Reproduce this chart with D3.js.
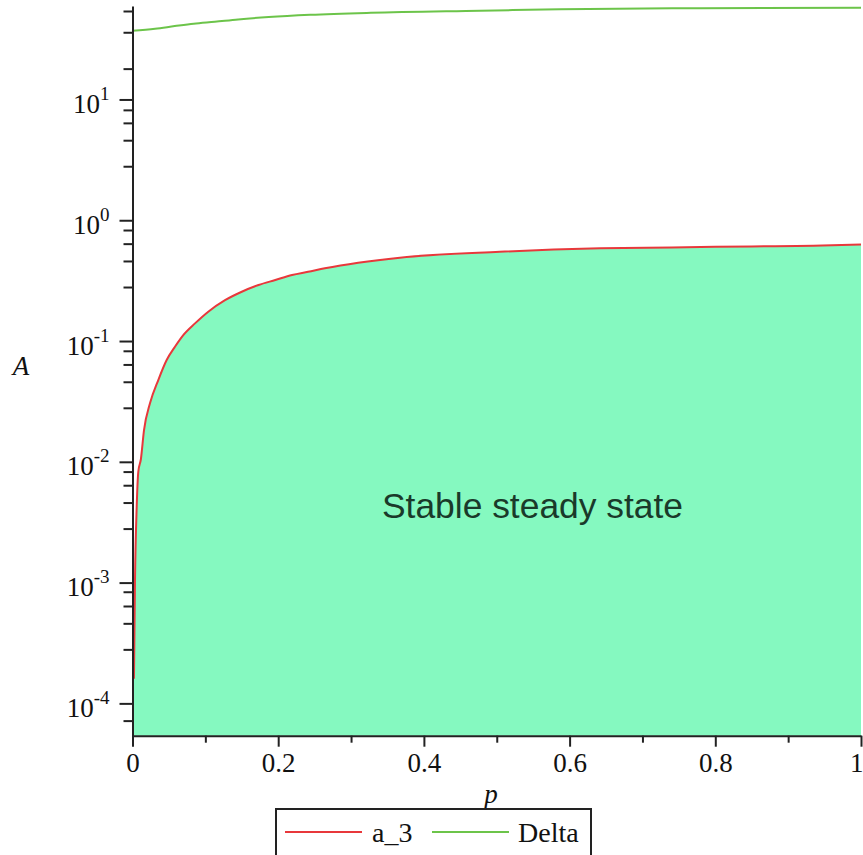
<!DOCTYPE html>
<html><head><meta charset="utf-8">
<script src="https://cdn.jsdelivr.net/npm/d3@7"></script>
<style>body{margin:0;background:#fff;overflow:hidden} svg{display:block}</style>
</head><body><svg id="c" width="863" height="855"></svg>
<script>
// ---- data ----
const pA3 = [0.002,0.0034,0.0058,0.0080,0.0115,0.0158,0.024,0.0354,0.0469,0.0583,0.0697,0.0858,0.104,0.127,0.150,0.173,0.196,0.219,0.241,0.264,0.367,0.504,0.642,0.74,0.85,0.947,1.0];
const a3  = [1.6e-4,1.02e-3,4.3e-3,8.3e-3,1.05e-2,1.83e-2,0.0305,0.0475,0.0696,0.0897,0.112,0.140,0.175,0.218,0.256,0.291,0.320,0.352,0.374,0.400,0.490,0.548,0.585,0.596,0.607,0.617,0.630];
const pDelta = [0,0.031,0.058,0.084,0.113,0.145,0.187,0.244,0.327,0.477,0.587,0.78,1.0];
const delta  = [37.0,38.5,40.5,42.4,44.0,46.0,48.1,50.2,52.2,54.3,55.8,57.0,57.5];
const xTicks = [0,0.2,0.4,0.6,0.8,1];
const xTickLabels = ["0","0.2","0.4","0.6","0.8","1"];
const xMinorTicks = [0.1,0.3,0.5,0.7,0.9];
const yTicks = [1e-4,1e-3,1e-2,1e-1,1,10];
const yTickExp = ["-4","-3","-2","-1","0","1"];
const yMinorTicks = [7.2e-5,
  2.8e-4,4.6e-4,6.4e-4,8.4e-4,
  2.8e-3,4.6e-3,6.4e-3,8.3e-3,
  2.8e-2,4.6e-2,6.4e-2,8.3e-2,
  0.28,0.46,0.64,0.83,
  2.8,4.6,6.4,8.2,
  18,36,54];
const seriesNames = ["a_3","Delta"];
const seriesColors = ["#e8383b","#6cc44a"];
const regionLabel = "Stable steady state";

// ---- layout ----
const svg = d3.select("#c");
const x = d3.scaleLinear().domain([0,1]).range([132.5,861]);
const y = d3.scaleLog().domain([5.4e-5,59.4]).range([735.7,6]);
const serif = "'Liberation Serif','Times New Roman',serif";

const a3Data = pA3.map((p,i)=>({p, v:a3[i]}));
const dData = pDelta.map((p,i)=>({p, v:delta[i]}));

// fill region
svg.append("path")
  .datum(a3Data)
  .attr("d", d3.area().curve(d3.curveMonotoneX).x(d=>x(d.p)).y0(y.range()[0]).y1(d=>y(d.v)))
  .attr("fill","#85f9c0");

svg.append("text")
  .attr("x", 532.5)
  .attr("y", 518)
  .attr("text-anchor","middle")
  .attr("font-family","'Liberation Sans',Arial,sans-serif")
  .attr("font-size",35.4)
  .attr("fill","#1a3a2a")
  .text(regionLabel);

const line = d3.line().curve(d3.curveMonotoneX).x(d=>x(d.p)).y(d=>y(d.v));
svg.append("path").datum(a3Data).attr("d",line)
  .attr("fill","none").attr("stroke",seriesColors[0]).attr("stroke-width",2);
svg.append("path").datum(dData).attr("d",line)
  .attr("fill","none").attr("stroke",seriesColors[1]).attr("stroke-width",2);

// ---- x axis ----
const gx = svg.append("g").attr("transform",`translate(0,${y.range()[0]})`);
gx.call(d3.axisBottom(x).tickValues(xTicks).tickSize(11).tickSizeOuter(0).tickFormat((d,i)=>xTickLabels[i]));
gx.append("g").call(d3.axisBottom(x).tickValues(xMinorTicks).tickSize(7).tickSizeOuter(0).tickFormat(""))
  .select(".domain").remove();
gx.selectAll("text").attr("y",36).attr("dy",0)
  .attr("font-family",serif).attr("font-size",27).attr("fill","#111");
gx.selectAll(".tick text").filter(d=>d===1).attr("text-anchor","end").attr("x",2);

// ---- y axis ----
const gy = svg.append("g").attr("transform",`translate(${x.range()[0]},0)`);
gy.call(d3.axisLeft(y).tickValues(yTicks).tickSize(13).tickSizeOuter(0).tickFormat(""));
gy.append("g").call(d3.axisLeft(y).tickValues(yMinorTicks).tickSize(9).tickSizeOuter(0).tickFormat(""))
  .select(".domain").remove();
gy.selectAll(".tick").filter(d=>yTicks.includes(d)).each(function(d){
  const i = yTicks.indexOf(d);
  const t = d3.select(this).append("text")
    .attr("x",-23).attr("y",13).attr("text-anchor","end")
    .attr("font-family",serif).attr("font-size",27).attr("fill","#111");
  t.append("tspan").text("10");
  t.append("tspan").attr("dy",-13).attr("font-size",19).text(yTickExp[i]);
});

svg.selectAll(".domain").attr("stroke","#222").attr("stroke-width",2);
svg.selectAll(".tick line").attr("stroke","#222").attr("stroke-width",2);

// axis titles
svg.append("text").attr("x",21).attr("y",375).attr("text-anchor","middle")
  .attr("font-family",serif).attr("font-style","italic").attr("font-size",27).attr("fill","#111").text("A");
svg.append("text").attr("x",491).attr("y",803).attr("text-anchor","middle")
  .attr("font-family",serif).attr("font-style","italic").attr("font-size",27).attr("fill","#111").text("p");

// ---- legend ----
const lg = svg.append("g");
lg.append("rect").attr("x",276).attr("y",809).attr("width",315).attr("height",60)
  .attr("fill","none").attr("stroke","#222").attr("stroke-width",2);
const legX = [[285,362,372],[432,509,518]];
seriesNames.forEach((n,i)=>{
  lg.append("line").attr("x1",legX[i][0]).attr("x2",legX[i][1]).attr("y1",832).attr("y2",832)
    .attr("stroke",seriesColors[i]).attr("stroke-width",2);
  lg.append("text").attr("x",legX[i][2]).attr("y",842)
    .attr("font-family",serif).attr("font-size",28).attr("fill","#111").text(n);
});
</script></body></html>
